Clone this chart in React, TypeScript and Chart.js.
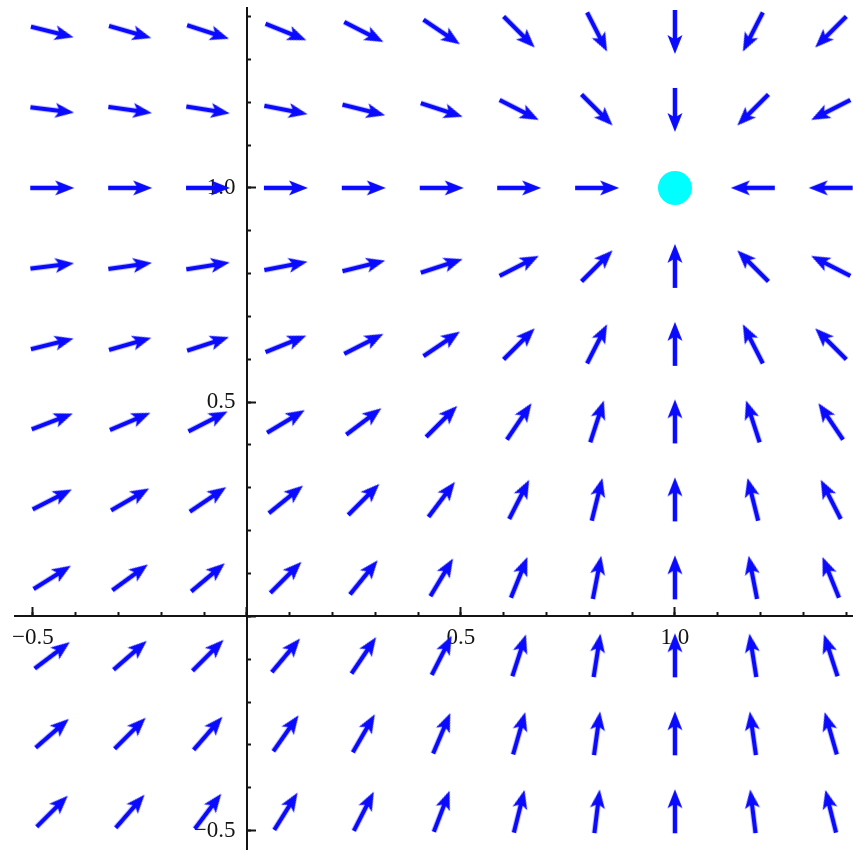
import React, { useEffect, useRef } from "react";
import { Chart, registerables } from "chart.js";

Chart.register(...registerables);

// Grid of arrow centres (data units)
const gridX = [-0.455, -0.273, -0.091, 0.091, 0.273, 0.455, 0.636, 0.818, 1.0, 1.182, 1.364];
const gridY = [1.364, 1.182, 1.0, 0.818, 0.636, 0.455, 0.273, 0.091, -0.091, -0.273, -0.455];

// Arrow directions in degrees (counter-clockwise from +x), one row per gridY value, one column per gridX value
const arrowAngles: (number | null)[][] = [
  [-14, -16, -18, -22, -27, -34, -45, -63, -90, -117, -135],
  [-7, -8, -9, -11, -14, -18, -27, -45, -90, -135, -153],
  [0, 0, 0, 0, 0, 0, 0, 0, null, 180, 180],
  [7, 8, 9, 11, 14, 18, 27, 45, 90, 135, 153],
  [14, 16, 18, 22, 27, 34, 45, 63, 90, 117, 135],
  [21, 23, 27, 31, 37, 45, 56, 72, 90, 108, 124],
  [27, 30, 34, 39, 45, 53, 63, 76, 90, 104, 117],
  [32, 36, 40, 45, 51, 59, 68, 79, 90, 101, 112],
  [37, 41, 45, 50, 56, 63, 72, 81, 90, 99, 108],
  [41, 45, 49, 55, 60, 67, 74, 82, 90, 98, 106],
  [45, 49, 53, 58, 63, 69, 76, 83, 90, 97, 104],
];

// Equilibrium point
const equilibriumX = [1.0];
const equilibriumY = [1.0];

// Axis ranges and tick steps
const xRange = [-0.542, 1.416];
const yRange = [-0.545, 1.42];
const minorStep = 0.1;
const majorStep = 0.5;

const AXIS_COLOR = "#141414";
const ARROW_COLOR = "#0a0aff";
const POINT_COLOR = "#00ffff";
const FONT_FAMILY = "'Liberation Serif', 'Times New Roman', 'DejaVu Serif', serif";

function makeArrow(): HTMLCanvasElement {
  const c = document.createElement("canvas");
  c.width = 52;
  c.height = 22;
  const g = c.getContext("2d")!;
  g.strokeStyle = ARROW_COLOR;
  g.fillStyle = ARROW_COLOR;
  g.lineWidth = 4.5;
  g.lineCap = "butt";
  g.beginPath();
  g.moveTo(4, 11);
  g.lineTo(35, 11);
  g.stroke();
  g.beginPath();
  g.moveTo(48, 11);
  g.lineTo(29, 3.6);
  g.lineTo(33.5, 11);
  g.lineTo(29, 18.4);
  g.closePath();
  g.fill();
  return c;
}

function fmt(v: number): string {
  if (Math.abs(v) < 1e-9) return "";
  return (v < 0 ? "\u2212" : "") + Math.abs(v).toFixed(1);
}

function isMajor(v: number): boolean {
  return Math.abs(v / majorStep - Math.round(v / majorStep)) < 1e-6;
}

export default function App() {
  const ref = useRef<HTMLCanvasElement | null>(null);

  useEffect(() => {
    document.body.style.margin = "0";
    document.body.style.overflow = "hidden";
    const canvas = ref.current!;
    const arrow = makeArrow();

    const pts: { x: number; y: number }[] = [];
    const rots: number[] = [];
    arrowAngles.forEach((row, r) => {
      row.forEach((a, c) => {
        if (a === null) return;
        pts.push({ x: gridX[c], y: gridY[r] });
        rots.push(-a);
      });
    });
    const eq = equilibriumX.map((x, i) => ({ x, y: equilibriumY[i] }));

    const tickFont = { family: FONT_FAMILY, size: 23 };

    const chart = new Chart(canvas, {
      type: "scatter",
      data: {
        datasets: [
          {
            data: eq,
            pointStyle: "circle",
            pointRadius: 17,
            pointBackgroundColor: POINT_COLOR,
            pointBorderWidth: 0,
            xAxisID: "x",
            yAxisID: "y",
          } as any,
          {
            data: pts,
            pointStyle: arrow,
            pointRotation: rots,
            pointRadius: 3,
            xAxisID: "x",
            yAxisID: "y",
          } as any,
        ],
      },
      options: {
        responsive: false,
        animation: false,
        events: [],
        layout: { autoPadding: false, padding: { left: 15, top: 8, right: 0, bottom: 0 } },
        plugins: { legend: { display: false }, tooltip: { enabled: false } },
        scales: {
          x: {
            type: "linear",
            min: xRange[0],
            max: xRange[1],
            position: { y: 0 } as any,
            grid: { drawOnChartArea: false, tickLength: -5, tickWidth: 2, tickColor: AXIS_COLOR },
            border: { display: true, color: AXIS_COLOR, width: 2 },
            ticks: { display: false, stepSize: minorStep, maxTicksLimit: 1000, includeBounds: false },
          },
          xMajor: {
            type: "linear",
            axis: "x",
            min: xRange[0],
            max: xRange[1],
            position: { y: 0 } as any,
            grid: { drawOnChartArea: false, tickLength: -9, tickWidth: 2, tickColor: AXIS_COLOR },
            border: { display: false },
            ticks: {
              stepSize: majorStep,
              maxTicksLimit: 1000,
              includeBounds: false,
              autoSkip: false,
              maxRotation: 0,
              padding: 0,
              color: AXIS_COLOR,
              font: { ...tickFont, lineHeight: 2.65 },
              callback: (v: any) => (isMajor(Number(v)) ? fmt(Number(v)) : ""),
            },
          } as any,
          y: {
            type: "linear",
            min: yRange[0],
            max: yRange[1],
            position: { x: 0 } as any,
            grid: { drawOnChartArea: false, tickLength: -5, tickWidth: 2, tickColor: AXIS_COLOR },
            border: { display: true, color: AXIS_COLOR, width: 2 },
            ticks: { display: false, stepSize: minorStep, maxTicksLimit: 1000, includeBounds: false },
          },
          yMajor: {
            type: "linear",
            axis: "y",
            min: yRange[0],
            max: yRange[1],
            position: { x: 0 } as any,
            grid: { drawOnChartArea: false, tickLength: -9, tickWidth: 2, tickColor: AXIS_COLOR },
            border: { display: false },
            ticks: {
              stepSize: majorStep,
              maxTicksLimit: 1000,
              includeBounds: false,
              autoSkip: false,
              padding: 0,
              color: AXIS_COLOR,
              font: { ...tickFont, lineHeight: 0.1 },
              callback: (v: any) => {
                const s = isMajor(Number(v)) ? fmt(Number(v)) : "";
                return s ? s + "  " : "";
              },
            },
          } as any,
        },
      },
    });
    return () => chart.destroy();
  }, []);

  return (
    <div style={{ width: 853, height: 851 }}>
      <canvas ref={ref} width={853} height={851} />
    </div>
  );
}
